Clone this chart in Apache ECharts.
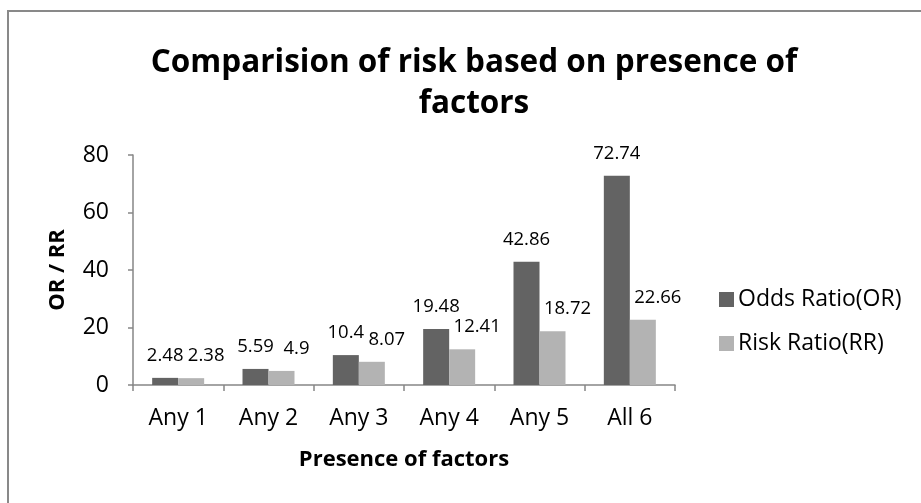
<!DOCTYPE html>
<html>
<head>
<meta charset="utf-8">
<script src="https://cdn.jsdelivr.net/npm/echarts@6/dist/echarts.min.js"></script>
<style>
  html, body { margin: 0; padding: 0; background: #fff; }
  #frame { position: absolute; left: 7px; top: 10px; width: 930px; height: 510px;
           border: 2px solid #898989; box-sizing: border-box; }
  #chart { width: 921px; height: 503px; position: absolute; left: 0; top: 0; }
</style>
</head>
<body>
<div id="frame"></div>
<div id="chart"></div>
<script>
// Chart data
const categories = ['Any 1', 'Any 2', 'Any 3', 'Any 4', 'Any 5', 'All 6'];
const oddsRatio = [2.48, 5.59, 10.4, 19.48, 42.86, 72.74];
const riskRatio = [2.38, 4.9, 8.07, 12.41, 18.72, 22.66];
const seriesNames = ['Odds Ratio(OR)', 'Risk Ratio(RR)'];

const FONT = '"Open Sans", "Noto Sans", sans-serif';
const chart = echarts.init(document.getElementById('chart'));

const labelStyle = {
  show: true,
  position: 'top',
  distance: 13,
  color: '#000',
  fontFamily: FONT,
  fontSize: 18.5
};

chart.setOption({
  animation: false,
  textStyle: { fontFamily: FONT },
  title: {
    text: 'Comparision of risk based on presence of\nfactors',
    top: 38,
    left: 469,
    textAlign: 'center',
    textStyle: { fontFamily: FONT, fontSize: 31.5, fontWeight: 'bold', color: '#000', lineHeight: 41 }
  },
  legend: {
    orient: 'vertical',
    left: 714,
    top: 283,
    itemWidth: 15,
    itemHeight: 15,
    itemGap: 21,
    icon: 'rect',
    data: seriesNames,
    textStyle: { fontFamily: FONT, fontSize: 23, lineHeight: 23, color: '#000', padding: [0, 0, 0, -1] }
  },
  grid: { left: 133, right: 246, top: 155, bottom: 118, containLabel: false },
  xAxis: {
    type: 'category',
    data: categories,
    name: 'Presence of factors',
    nameLocation: 'middle',
    nameGap: 64,
    nameTextStyle: { fontFamily: FONT, fontSize: 22, fontWeight: 'bold', color: '#000' },
    axisLine: { lineStyle: { color: '#868686', width: 1.5 } },
    axisTick: { show: true, length: 6, lineStyle: { color: '#868686', width: 1.5 } },
    axisLabel: { fontFamily: FONT, fontSize: 23, color: '#000', margin: 22 }
  },
  yAxis: {
    type: 'value',
    min: 0,
    max: 80,
    interval: 20,
    name: 'OR / RR',
    nameLocation: 'middle',
    nameGap: 64,
    nameRotate: 90,
    nameTextStyle: { fontFamily: FONT, fontSize: 22, fontWeight: 'bold', color: '#000' },
    axisLine: { show: true, lineStyle: { color: '#868686', width: 1.5 } },
    axisTick: { show: true, length: 5, lineStyle: { color: '#868686', width: 1.5 } },
    splitLine: { show: false },
    axisLabel: { fontFamily: FONT, fontSize: 23, color: '#000', margin: 24 }
  },
  series: [
    {
      name: seriesNames[0],
      type: 'bar',
      data: oddsRatio,
      barWidth: 26,
      barGap: '0%',
      itemStyle: { color: '#636363' },
      label: labelStyle
    },
    {
      name: seriesNames[1],
      type: 'bar',
      data: riskRatio,
      barWidth: 26,
      barGap: '0%',
      itemStyle: { color: '#b3b3b3' },
      // RR labels sit a little to the right so they clear the OR labels
      label: Object.assign({}, labelStyle, { offset: [15, 0] })
    }
  ]
});
</script>
</body>
</html>
